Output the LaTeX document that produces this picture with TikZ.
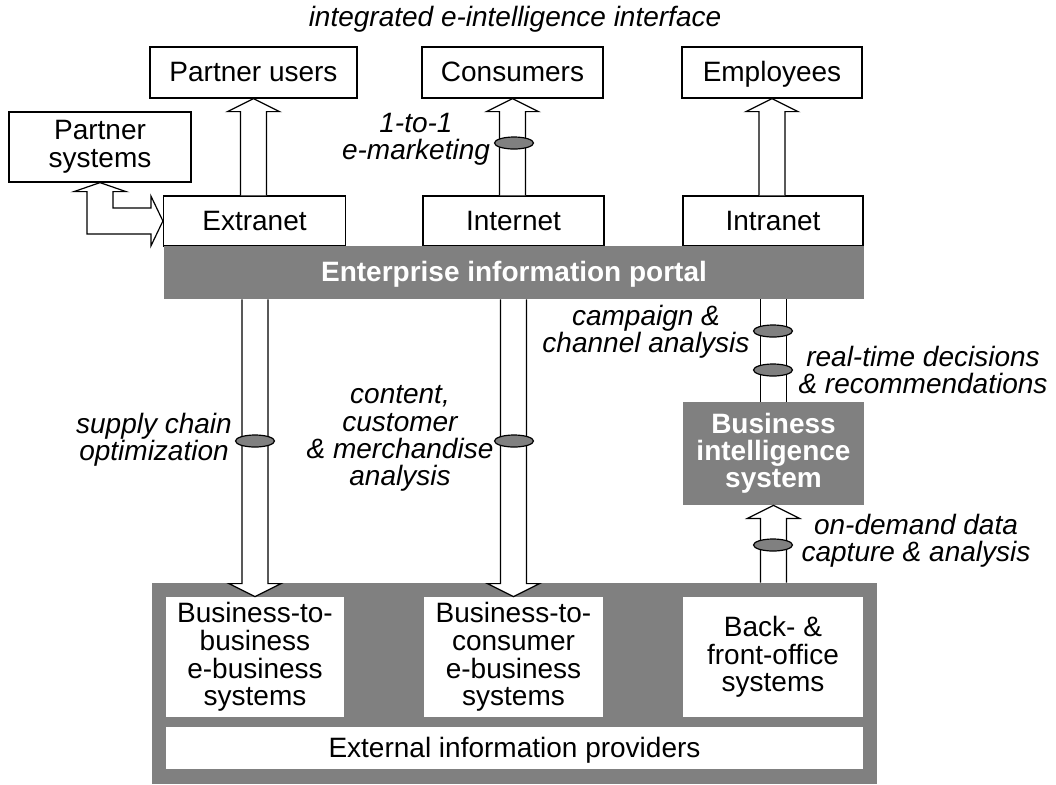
\documentclass[tikz,border=0pt]{standalone}
\usepackage{fontspec}
\setmainfont{Liberation Sans}
\usetikzlibrary{calc,shapes.geometric}
\definecolor{portalgray}{HTML}{808080}

% hollow block arrows: #1 = start anchor, #2 = tip anchor
\newcommand{\arrup}[2]{\draw[blockarrow] ($(#2|-#1)+(-13,0)$) -- ($(#2)+(-13,13)$) -- ++(-13,0) -- (#2) -- ++(26,13) -- ++(-13,0) -- ($(#2|-#1)+(13,0)$);}
\newcommand{\arrdown}[2]{\draw[blockarrow] ($(#2|-#1)+(-13,0)$) -- ($(#2)+(-13,-13)$) -- ++(-13,0) -- (#2) -- ++(26,-13) -- ++(-13,0) -- ($(#2|-#1)+(13,0)$);}

\begin{document}
\begin{tikzpicture}[x=0.5pt, y=-0.5pt,
  every node/.style={font=\fontsize{14}{13.8}\selectfont},
  box/.style={draw, fill=white, line width=0.6pt, align=center, inner sep=0pt},
  oneline/.style={text height=10pt, text depth=1pt},
  graybox/.style={fill=portalgray, text=white, font=\fontsize{14}{13.6}\selectfont\bfseries, align=center, inner sep=0pt},
  whitebox/.style={fill=white, align=center, inner sep=0pt},
  lbl/.style={font=\fontsize{14}{13.6}\selectfont\itshape, align=center, inner sep=0pt},
  blockarrow/.style={draw, fill=white, line width=0.6pt},
  link/.style={ellipse, draw, fill=portalgray, line width=0.6pt, minimum width=19.5pt, minimum height=6pt, inner sep=0pt}]
	\useasboundingbox (0,0) rectangle (1056,784);
	%users
	\node[lbl] (title) at (515,19) {integrated e-intelligence interface};
	\node[box, oneline, minimum width=103.5pt, minimum height=25.5pt] (pu) at (253.5,72.5) {Partner users};
	\node[box, oneline, minimum width=90.5pt, minimum height=25.5pt] (cons) at (512.5,72.5) {Consumers};
	\node[box, oneline, minimum width=90pt, minimum height=25.5pt] (emp) at (772,72.5) {Employees};
	\node[box, minimum width=91pt, minimum height=35pt] (ps) at (100,147) {Partner\\systems};
	%portal
	\node[box, oneline, minimum width=91pt, minimum height=25pt] (ext) at (254.5,221) {Extranet};
	\node[box, oneline, minimum width=90.5pt, minimum height=25pt] (inet) at (513.5,221) {Internet};
	\node[box, oneline, minimum width=90pt, minimum height=25pt] (intra) at (773,221) {Intranet};
	\node[graybox, oneline, minimum width=350pt, minimum height=26.5pt] (portal) at (514,272.5) {Enterprise information portal};
	\node[graybox, minimum width=90.5pt, minimum height=51.5pt] (bi) at (773.5,453.5) {Business\\intelligence\\system};
	%systems
	\node[graybox, minimum width=362.5pt, minimum height=100.5pt] (esys) at (514.5,683.5) {};
	\node[whitebox, minimum width=89pt, minimum height=60pt] (b2b) at (255,657) {Business-to-\\business\\e-business\\systems};
	\node[whitebox, minimum width=89.5pt, minimum height=60pt] (b2c) at (513.5,657) {Business-to-\\consumer\\e-business\\systems};
	\node[whitebox, minimum width=90pt, minimum height=60pt] (bo) at (773,657) {Back- \&\\front-office\\systems};
	\node[whitebox, oneline, minimum width=348.5pt, minimum height=21pt] (xinfo) at (514.5,748) {External information providers};
	%arrows
	\arrup{ext.north}{pu.south}
	\arrup{inet.north}{cons.south}
	\arrup{intra.north}{emp.south}
	\arrdown{portal.south}{b2b.north}
	\arrdown{portal.south}{b2c.north}
	\arrup{esys.north}{bi.south}
	\draw[line width=0.6pt] ($(bi.north)+(-13,0)$) -- ($(bi.north|-portal.south)+(-13,0)$);
	\draw[line width=0.6pt] ($(bi.north)+(13,0)$) -- ($(bi.north|-portal.south)+(13,0)$);
	\draw[blockarrow] (ps.south) -- ++(26,9) -- ++(-13,0) -- ($(ps.south|-ext.west)+(13,-13)$) -- ($(ext.west)+(-12,-13)$) -- ++(0,-12) -- (ext.west) -- ++(-12,25) -- ++(0,-12) -- ($(ps.south|-ext.west)+(-13,13)$) -- ($(ps.south)+(-13,9)$) -- ++(-13,0) -- cycle;
	%data flows
	\node[link] (l1) at (514,143) {};
	\node[link] (l2) at (255,441) {};
	\node[link] (l3) at (514,441) {};
	\node[link] (l4) at (773,331) {};
	\node[link] (l5) at (773,370) {};
	\node[link] (l6) at (773,545) {};
	\node[lbl] (mkt) at (416,139) {1-to-1\\e-marketing};
	\node[lbl] (scm) at (154,440) {supply chain\\optimization};
	\node[lbl] (cca) at (400,438.5) {content,\\customer\\\& merchandise\\analysis};
	\node[lbl] (camp) at (646,332) {campaign \&\\channel analysis};
	\node[lbl] (rtd) at (923,370) {real-time decisions\\\& recommendations};
	\node[lbl] (ond) at (916,541) {on-demand data\\capture \& analysis};
\end{tikzpicture}
\end{document}
